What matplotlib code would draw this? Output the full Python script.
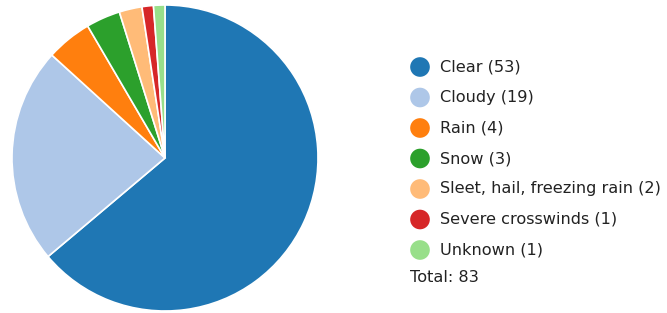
import matplotlib.pyplot as plt

categories = ['Clear', 'Cloudy', 'Rain', 'Snow', 'Sleet, hail, freezing rain',
              'Severe crosswinds', 'Unknown']
counts = [53, 19, 4, 3, 2, 1, 1]
colors = ['#1f77b4', '#aec7e8', '#ff7f0e', '#2ca02c', '#ffbb78', '#d62728', '#98df8a']

W, H = 667, 313
fig = plt.figure(figsize=(W / 100, H / 100), dpi=100)

# pie, centre (165, 158) px, radius 153 px
cx, cy, r = 165, 158, 153
ax = fig.add_axes([(cx - r) / W, (H - cy - r) / H, 2 * r / W, 2 * r / H])
ax.pie(counts, colors=colors, startangle=90, counterclock=False,
       wedgeprops=dict(edgecolor='white', linewidth=1.2))
ax.set_xlim(-1, 1)
ax.set_ylim(-1, 1)
ax.set_aspect('equal')

# legend drawn in pixel coordinates
lax = fig.add_axes([0, 0, 1, 1])
lax.set_xlim(0, W)
lax.set_ylim(H, 0)
lax.axis('off')
y0, dy = 67, 30.5
for i, (cat, n, c) in enumerate(zip(categories, counts, colors)):
    y = y0 + i * dy
    lax.scatter(420, y, s=200, color=c, edgecolors='none')
    lax.text(440, y, f'{cat} ({n})', fontsize=11.6, va='center', ha='left', color='#222222')
lax.text(410, 277, f'Total: {sum(counts)}', fontsize=11.6, va='center', ha='left', color='#222222')

fig.savefig('out.png', dpi=100)
